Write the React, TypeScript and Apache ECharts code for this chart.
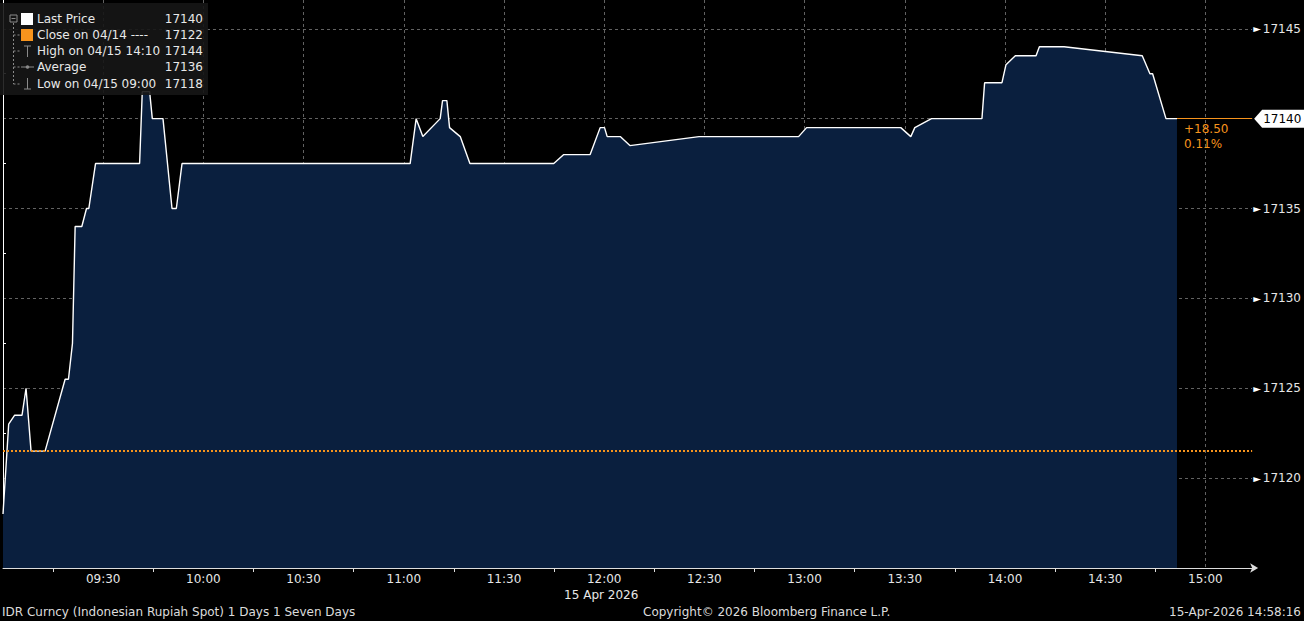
import React, { useEffect, useRef } from "react";
import * as echarts from "echarts";

// minutes elapsed since 09:00 (15 Apr 2026)
const minutesFromOpen = [
  0, 1.7, 3.5, 5.7, 6.9, 8.4, 12.6, 18.6, 19.6, 20.8,
  21.6, 23.6, 25.0, 25.7, 27.7, 40.9, 41.7, 43.9, 44.7, 47.9,
  50.6, 51.9, 53.6, 121.9, 123.7, 125.7, 130.9, 131.6, 132.9, 133.7,
  136.9, 139.8, 164.9, 167.9, 175.8, 178.8, 180.1, 180.9, 184.8, 187.7,
  208.4, 238.2, 240.6, 268.8, 271.8, 273.0, 278.0, 293.1, 293.9, 299.1,
  300.3, 303.1, 309.3, 310.3, 317.7, 341.1, 343.4, 344.2, 348.2, 351.5,
];
const prices = [
  17118, 17123, 17123.5, 17123.5, 17125, 17121.5, 17121.5, 17125.5, 17125.5, 17127.5,
  17134, 17134, 17135, 17135, 17137.5, 17137.5, 17141.5, 17141.5, 17140, 17140,
  17135, 17135, 17137.5, 17137.5, 17140, 17139, 17140, 17141, 17141, 17139.5,
  17139, 17137.5, 17137.5, 17138, 17138, 17139.5, 17139.5, 17139, 17139, 17138.5,
  17139, 17139, 17139.5, 17139.5, 17139, 17139.5, 17140, 17140, 17142, 17142,
  17143, 17143.5, 17143.5, 17144, 17144, 17143.5, 17142.5, 17142.5, 17140, 17140,
];
const previousClose = 17121.5;
const legendLabels = ["Last Price", "Close on 04/14 ----", "High on 04/15 14:10", "Average", "Low on 04/15 09:00"];
const legendValues = ["17140", "17122", "17144", "17136", "17118"];
const yTicks = { min: 17115, max: 17146.6, step: 5 };
const xTicks = { min: 0, max: 374, step: 30 };

const FONT = "DejaVu Sans";
const ORANGE = "#f7941d";
const NAVY = "#0a1f3e";

function fmtTime(m: number) {
  const t = 540 + m;
  const h = Math.floor(t / 60);
  const mm = Math.round(t % 60);
  return String(h).padStart(2, "0") + ":" + String(mm).padStart(2, "0");
}

export default function App() {
  const ref = useRef<HTMLDivElement>(null);
  useEffect(() => {
    document.body.style.margin = "0";
    document.body.style.background = "#000";
    const chart = echarts.init(ref.current!, undefined, { renderer: "svg" });
    const data = minutesFromOpen.map((m, i) => [m, prices[i]]);
    const lastM = minutesFromOpen[minutesFromOpen.length - 1];
    const last = prices[prices.length - 1];

    const option: any = {
      animation: false,
      backgroundColor: "#000",
      grid: { left: 0, right: 48, top: 0, bottom: 53, containLabel: false },
      xAxis: {
        type: "value",
        min: xTicks.min,
        max: xTicks.max,
        interval: xTicks.step,
        axisLine: {
          show: true,
          lineStyle: { color: "#dddddd", width: 1 },
          symbol: ["none", "arrow"],
          symbolSize: [7, 8],
          symbolOffset: [0, 6],
        },
        axisTick: { show: false },
        minorTick: { show: true, splitNumber: 2, length: 4, lineStyle: { color: "#dddddd" } },
        axisLabel: {
          color: "#e6e6e6",
          fontFamily: FONT,
          fontSize: 12,
          margin: 5,
          formatter: (v: number) => (v % 30 === 0 && v > 0 ? fmtTime(v) : ""),
        },
        splitLine: { show: true, showMaxLine: false, lineStyle: { color: "rgba(150,150,150,0.65)", type: [3, 3], width: 1 } },
      },
      yAxis: {
        type: "value",
        position: "right",
        min: yTicks.min,
        max: yTicks.max,
        interval: yTicks.step,
        axisLine: { show: true, lineStyle: { color: "#ffffff", width: 1 } },
        axisTick: { show: false },
        minorTick: { show: true, splitNumber: 2, length: 3, lineStyle: { color: "#ffffff" } },
        axisLabel: {
          margin: 1,
          formatter: (v: number) =>
            v % 5 !== 0 || v === yTicks.min || v === last ? "" : "{t|►}{v|" + v + "}",
          rich: {
            t: { color: "#ffffff", fontSize: 10, fontFamily: FONT, padding: [0, 2, 0, 0] },
            v: { color: "#e6e6e6", fontSize: 12, fontFamily: FONT },
          },
        },
        splitLine: { show: true, showMaxLine: false, lineStyle: { color: "rgba(150,150,150,0.65)", type: [3, 3], width: 1 } },
      },
      series: [
        {
          type: "line",
          data,
          showSymbol: false,
          symbol: "none",
          lineStyle: { color: "#ffffff", width: 1.4 },
          areaStyle: { color: NAVY, opacity: 1, origin: "start" },
          z: 2,
          markLine: {
            silent: true,
            symbol: ["none", "none"],
            label: { show: false },
            data: [
              { yAxis: previousClose, lineStyle: { color: ORANGE, type: [2, 2], width: 2 } },
              [
                { coord: [lastM, last], lineStyle: { color: ORANGE, type: "solid", width: 1 } },
                { coord: [xTicks.max, last] },
              ],
            ],
          },
        },
      ],
    };
    chart.setOption(option);

    const [lx, ly] = chart.convertToPixel({ seriesIndex: 0 }, [lastM, last]) as number[];
    const axisX = chart.convertToPixel({ xAxisIndex: 0 }, xTicks.max) as number;
    const noonX = chart.convertToPixel({ xAxisIndex: 0 }, 180) as number;
    const change = last - previousClose;
    const pct = (change / previousClose) * 100;

    const rowY = [19, 35, 51, 67, 84];
    const txt = (x: number, y: number, text: string, extra: any = {}) => ({
      type: "text",
      x,
      y,
      z: 101,
      style: { text, fill: "#e8e8e8", font: `12px "${FONT}"`, verticalAlign: "middle", ...extra },
    });
    const gray = "#8a8a8a";
    const graphic: any[] = [
      { type: "rect", z: 100, shape: { x: 0, y: 3, width: 208, height: 92 }, style: { fill: "rgba(22,22,22,0.9)" } },
      // tree lines
      { type: "line", z: 101, shape: { x1: 13.5, y1: 23, x2: 13.5, y2: 84 }, style: { stroke: gray, lineDash: [2, 2] } },
      ...rowY.slice(1).map((y) => ({ type: "line", z: 101, shape: { x1: 13.5, y1: y, x2: 20, y2: y }, style: { stroke: gray, lineDash: [2, 2] } })),
      { type: "rect", z: 101, shape: { x: 10, y: 15, width: 7, height: 7 }, style: { fill: "none", stroke: gray } },
      { type: "line", z: 101, shape: { x1: 11.5, y1: 18.5, x2: 15.5, y2: 18.5 }, style: { stroke: gray } },
      { type: "rect", z: 101, shape: { x: 21, y: 13, width: 12, height: 12 }, style: { fill: "#ffffff" } },
      { type: "rect", z: 101, shape: { x: 21, y: 29, width: 12, height: 12 }, style: { fill: ORANGE } },
      { type: "line", z: 101, shape: { x1: 24, y1: 46, x2: 31, y2: 46 }, style: { stroke: gray } },
      { type: "line", z: 101, shape: { x1: 27.5, y1: 46, x2: 27.5, y2: 57 }, style: { stroke: gray } },
      { type: "line", z: 101, shape: { x1: 21, y1: 67, x2: 34, y2: 67 }, style: { stroke: gray } },
      { type: "circle", z: 101, shape: { cx: 27.5, cy: 67, r: 1.8 }, style: { fill: gray } },
      { type: "line", z: 101, shape: { x1: 27.5, y1: 78, x2: 27.5, y2: 89 }, style: { stroke: gray } },
      { type: "line", z: 101, shape: { x1: 24, y1: 89, x2: 31, y2: 89 }, style: { stroke: gray } },
      ...legendLabels.map((l, i) => txt(37, rowY[i], l)),
      ...legendValues.map((v, i) => txt(203, rowY[i], v, { align: "right" })),
      // last price tag
      {
        type: "polygon",
        z: 101,
        shape: { points: [[axisX + 2, ly], [axisX + 10, ly - 9], [1304, ly - 9], [1304, ly + 9], [axisX + 10, ly + 9]] },
        style: { fill: "#ffffff" },
      },
      txt(axisX + 11, ly, String(last), { fill: "#000000" }),
      txt(lx + 7, ly + 10, (change >= 0 ? "+" : "") + change.toFixed(2), { fill: ORANGE }),
      txt(lx + 7, ly + 25, pct.toFixed(2) + "%", { fill: ORANGE }),
      // footer
      txt(noonX - 3, 595, "15 Apr 2026", { align: "center" }),
      txt(2, 612, "IDR Curncy (Indonesian Rupiah Spot) 1 Days 1 Seven Days", { fill: "#dcdcdc" }),
      txt(643, 612, "Copyright© 2026 Bloomberg Finance L.P.", { fill: "#dcdcdc" }),
      txt(1301, 612, "15-Apr-2026 14:58:16", { fill: "#dcdcdc", align: "right" }),
    ];
    chart.setOption({ graphic });

    return () => chart.dispose();
  }, []);
  return <div ref={ref} style={{ width: 1304, height: 621, background: "#000" }} />;
}
